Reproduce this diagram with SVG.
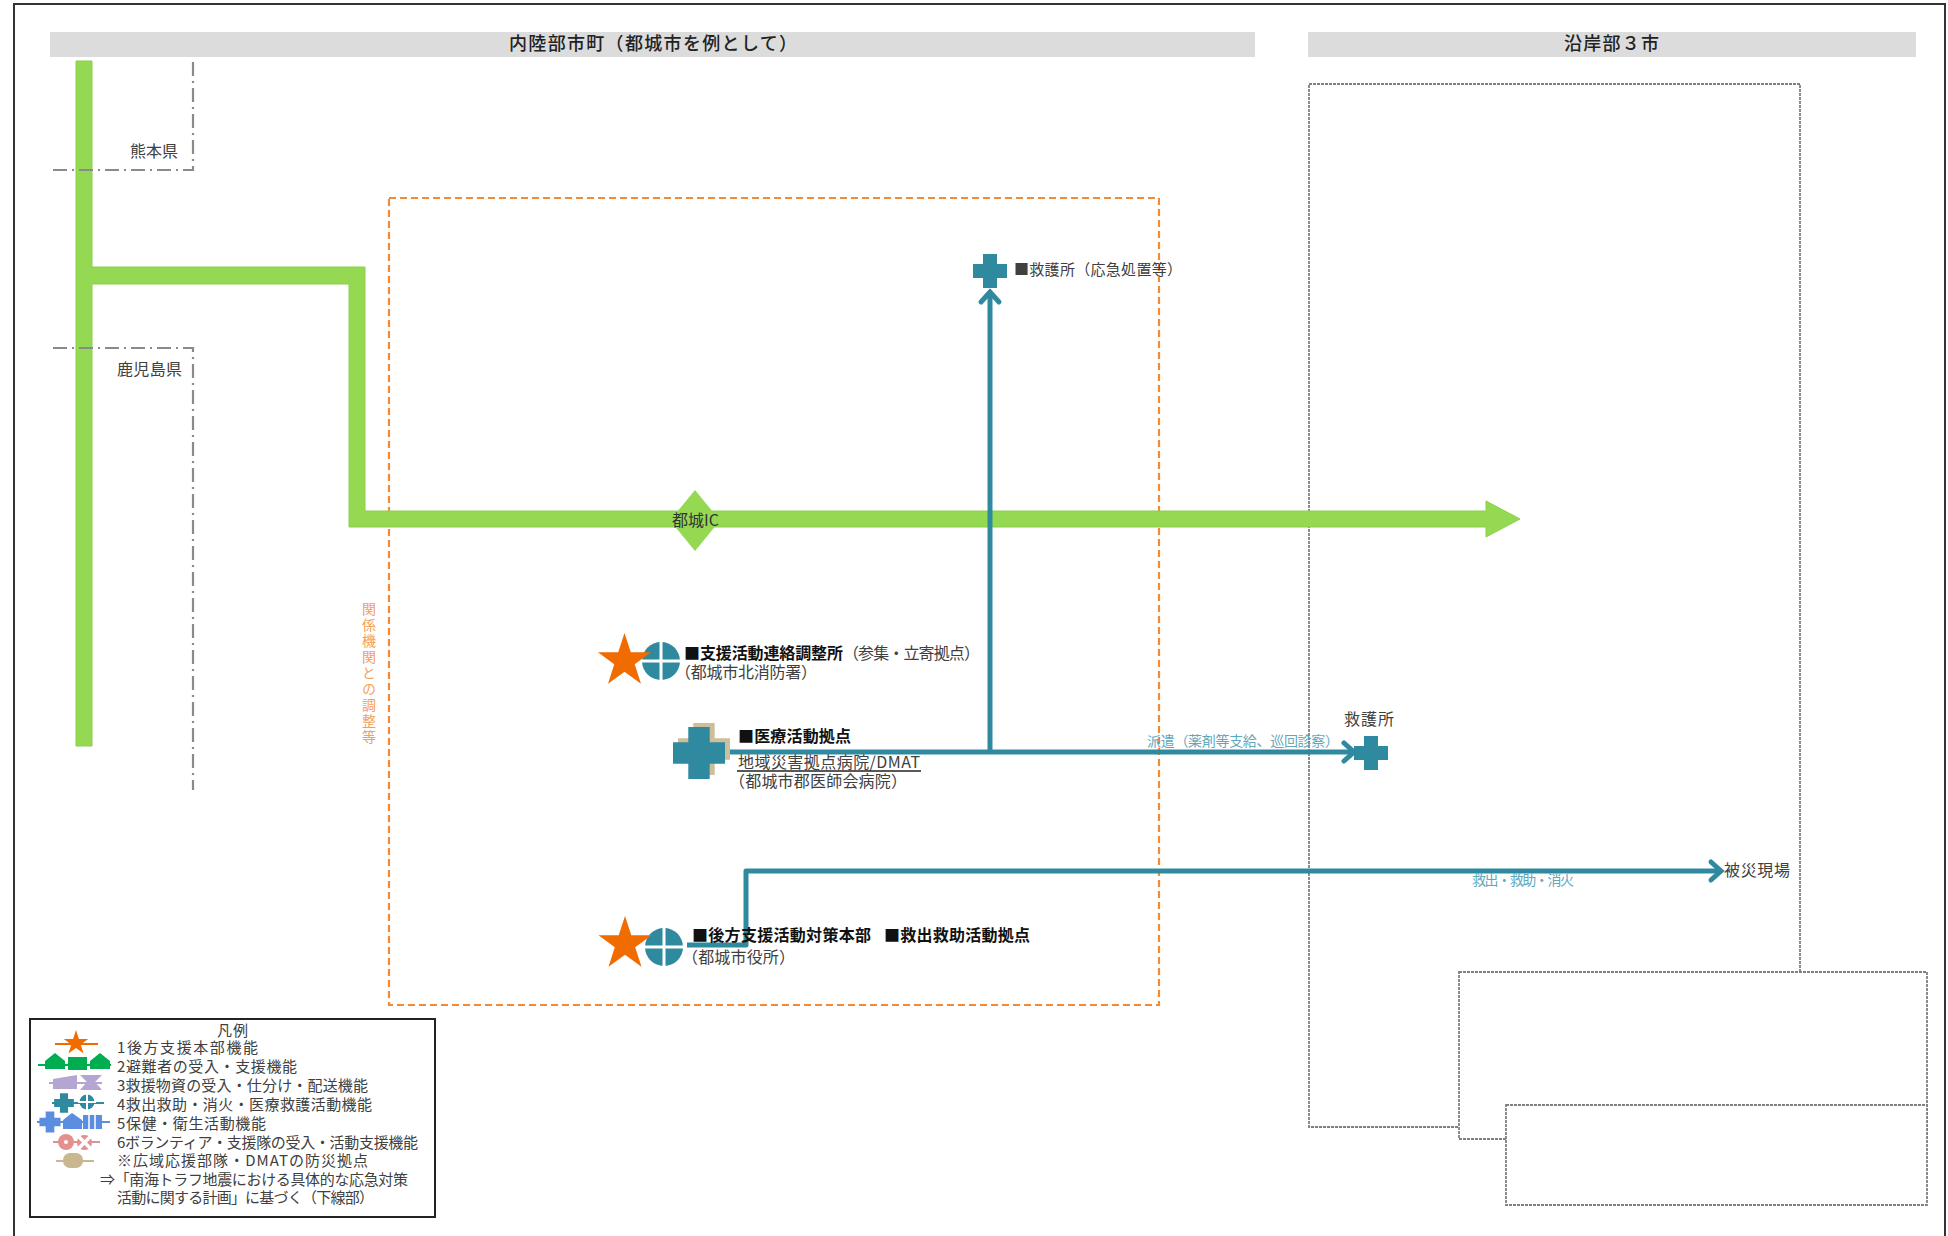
<svg xmlns="http://www.w3.org/2000/svg" width="1948" height="1236" viewBox="0 0 1948 1236">
<style>
text{font-family:"Noto Sans CJK JP","Noto Sans",sans-serif;dominant-baseline:central;fill:#404040;font-size:16px}
#legend text{font-size:15px}
.b{font-weight:700;fill:#111}
.h{font-weight:500;fill:#222;font-size:18px}
.tl{fill:#5fa9bc;font-size:14px}
.or{fill:#f5a05a;font-size:14px;writing-mode:vertical-rl;letter-spacing:2px}
.road{fill:#94d951;stroke:#8ccf4c;stroke-width:1}
.tealln{fill:none;stroke:#2f8a9f;stroke-width:5;stroke-linejoin:round}
.bd{fill:none;stroke:#8a8a8a;stroke-width:2.2;stroke-dasharray:14 5 2 5}
.dot{fill:none;stroke:#808080;stroke-width:1.8;stroke-dasharray:3 1}
.dotw{fill:#fff;stroke:#808080;stroke-width:1.8;stroke-dasharray:3 1}
.tealf{fill:#2f8a9f}
.star{fill:#f06c00}
.cw{stroke:#fff;stroke-width:3}
.lg{stroke-width:2;fill:none}
</style>
<defs>
<marker id="chev" markerUnits="userSpaceOnUse" markerWidth="24" markerHeight="24" refX="16" refY="12" orient="auto" overflow="visible">
<path d="M6,3 L16,12 L6,21" fill="none" stroke="#2f8a9f" stroke-width="5" stroke-linecap="round" stroke-linejoin="miter"/>
</marker>
<path id="cross" d="M-7,-17H7V-7H17V7H7V17H-7V7H-17V-7H-7Z"/>
<polygon id="starS" points="0,-28 6.3,-8.7 26.6,-8.7 10.2,3.3 16.5,22.7 0,10.7 -16.5,22.7 -10.2,3.3 -26.6,-8.7 -6.3,-8.7"/>
<g id="cc"><circle r="19" class="tealf"/><path d="M-20,0H20M0,-20V20" class="cw"/></g>
</defs>
<rect width="1948" height="1236" fill="#fff"/>
<path d="M14,1236V4H1945V1236" fill="none" stroke="#333" stroke-width="2"/>

<g id="headers">
<rect x="50" y="32" width="1205" height="25" fill="#dcdcdc"/>
<text class="h" x="509" y="42" textLength="288">内陸部市町（都城市を例として）</text>
<rect x="1308" y="32" width="608" height="25" fill="#dcdcdc"/>
<text class="h" x="1564" y="42" textLength="95">沿岸部３市</text>
</g>

<g id="regions">
<rect id="area-coordination" x="389" y="198" width="770" height="807" fill="none" stroke="#f58a35" stroke-width="2.2" stroke-dasharray="7 4"/>
<rect x="1309" y="84" width="491" height="1043" class="dot"/>
<rect x="1459" y="972" width="468" height="167" class="dotw"/>
<rect x="1506" y="1105" width="421" height="100" class="dotw"/>
</g>

<g id="connectors">
<path class="road" d="M76,61H92V267H365V511H1486V501L1520,519L1486,537V527H349V284H92V746H76Z"/>
<path class="bd" d="M193,62V170H53"/>
<path class="bd" d="M53,348H193V790"/>
<path class="tealln" d="M730,752H1354" marker-end="url(#chev)"/>
<path class="tealln" d="M990,752V292" marker-end="url(#chev)"/>
<path class="tealln" d="M687,945H746V871H1721" marker-end="url(#chev)"/>
</g>

<g id="label-kumamoto"><text x="130" y="150" textLength="48">熊本県</text></g>
<g id="label-kagoshima"><text x="117" y="368" textLength="65">鹿児島県</text></g>

<g id="node-ic">
<polygon points="695,490 720,520.5 695,551 670,520.5" fill="#94d951"/>
<text x="672" y="519" textLength="47" style="fill:#333">都城IC</text>
</g>

<g id="node-kyugosho1">
<use href="#cross" x="990" y="271" class="tealf"/>
<text x="1014" y="268" textLength="168" style="font-size:15px">■救護所（応急処置等）</text>
</g>

<g id="label-coordination"><text class="or" x="369" y="602">関係機関との調整等</text></g>

<g id="node-shien">
<use href="#cc" x="661" y="661"/>
<use href="#starS" x="624.5" y="661" class="star"/>
<text class="b" x="684" y="652" textLength="159">■支援活動連絡調整所</text>
<text x="843" y="652" textLength="137">（参集・立寄拠点）</text>
<text x="675" y="671" textLength="142">（都城市北消防署）</text>
</g>

<g id="node-iryo">
<use href="#cross" transform="translate(704,749) scale(1.53)" fill="#cdbf9b"/>
<use href="#cross" transform="translate(699,753) scale(1.53)" class="tealf"/>
<text class="b" x="738" y="735" textLength="113">■医療活動拠点</text>
<text x="738" y="761" textLength="182">地域災害拠点病院/DMAT</text>
<path d="M737,771H921" stroke="#222" stroke-width="1.5"/>
<text x="729" y="780" textLength="178">（都城市郡医師会病院）</text>
</g>

<g id="node-honbu">
<use href="#cc" x="664" y="947"/>
<use href="#starS" x="625" y="944" class="star"/>
<text class="b" x="692" y="934" textLength="179">■後方支援活動対策本部</text>
<text class="b" x="884" y="934" textLength="146">■救出救助活動拠点</text>
<text x="682" y="956" textLength="113">（都城市役所）</text>
</g>

<g id="node-kyugosho2">
<use href="#cross" x="1371" y="753" class="tealf"/>
<text x="1344" y="718" textLength="50">救護所</text>
</g>

<g id="label-haken"><text class="tl" x="1147" y="740" textLength="192">派遣（薬剤等支給、巡回診察）</text></g>
<g id="label-kyushutsu"><text class="tl" x="1472" y="879" textLength="102">救出・救助・消火</text></g>
<g id="node-hisai"><text x="1724" y="869" textLength="66">被災現場</text></g>

<g id="legend">
<rect x="30" y="1019" width="405" height="198" fill="#fff" stroke="#222" stroke-width="2"/>
<text x="217" y="1029" textLength="31">凡例</text>
<text x="117" y="1046" textLength="141">1後方支援本部機能</text>
<text x="117" y="1065" textLength="180">2避難者の受入・支援機能</text>
<text x="117" y="1084" textLength="251">3救援物資の受入・仕分け・配送機能</text>
<text x="117" y="1103" textLength="255">4救出救助・消火・医療救護活動機能</text>
<text x="117" y="1122" textLength="149">5保健・衛生活動機能</text>
<text x="117" y="1141" textLength="301">6ボランティア・支援隊の受入・活動支援機能</text>
<text x="117" y="1159" textLength="251">※広域応援部隊・DMATの防災拠点</text>
<text x="100" y="1178" textLength="308">⇒「南海トラフ地震における具体的な応急対策</text>
<text x="117" y="1196" textLength="257">活動に関する計画」に基づく（下線部）</text>

<path d="M55,1044H98" class="lg" stroke="#f06c00"/>
<use href="#starS" transform="translate(76,1043) scale(.46)" class="star"/>

<path d="M38,1065H111" class="lg" stroke="#00ad50"/>
<path d="M45,1061L55,1053L65,1061V1069H45ZM68,1057H87V1070H68ZM90,1061L100,1053L110,1061V1069H90Z" fill="#00ad50"/>

<path d="M49,1083H102" class="lg" stroke="#b5a5d3"/>
<path d="M53,1079L77,1075V1089H53ZM80,1075H102L95,1082L102,1090H80L87,1082Z" fill="#b5a5d3"/>

<path d="M52,1103H104" class="lg" stroke="#2f8a9f"/>
<use href="#cross" transform="translate(64,1103) scale(.58)" class="tealf"/>
<circle cx="87" cy="1102" r="7.5" fill="#2f8a9f"/>
<path d="M78,1102H96M87,1093V1111" stroke="#fff" stroke-width="2"/>

<path d="M37,1122H110" class="lg" stroke="#5b8ee0"/>
<use href="#cross" transform="translate(50,1122) scale(.62)" fill="#5b8ee0"/>
<path d="M63,1120L72,1113L82,1120V1129H63ZM83,1115H102V1129H83Z" fill="#5b8ee0"/>
<path d="M89,1115V1129M95,1115V1129" stroke="#fff" stroke-width="1.5"/>

<path d="M53,1142H100" class="lg" stroke="#e39090"/>
<circle cx="66" cy="1142" r="8" fill="#e39090"/>
<circle cx="66" cy="1142" r="2" fill="#fff"/>
<rect x="77" y="1135" width="15" height="15" fill="#e39090" rx="7"/>
<path d="M76,1134L93,1151M93,1134L76,1151" stroke="#fff" stroke-width="3.5"/>

<path d="M56,1161H94" class="lg" stroke="#c9b88f"/>
<rect x="63" y="1153" width="20" height="15" rx="7" fill="#c9b88f"/>
</g>
</svg>
